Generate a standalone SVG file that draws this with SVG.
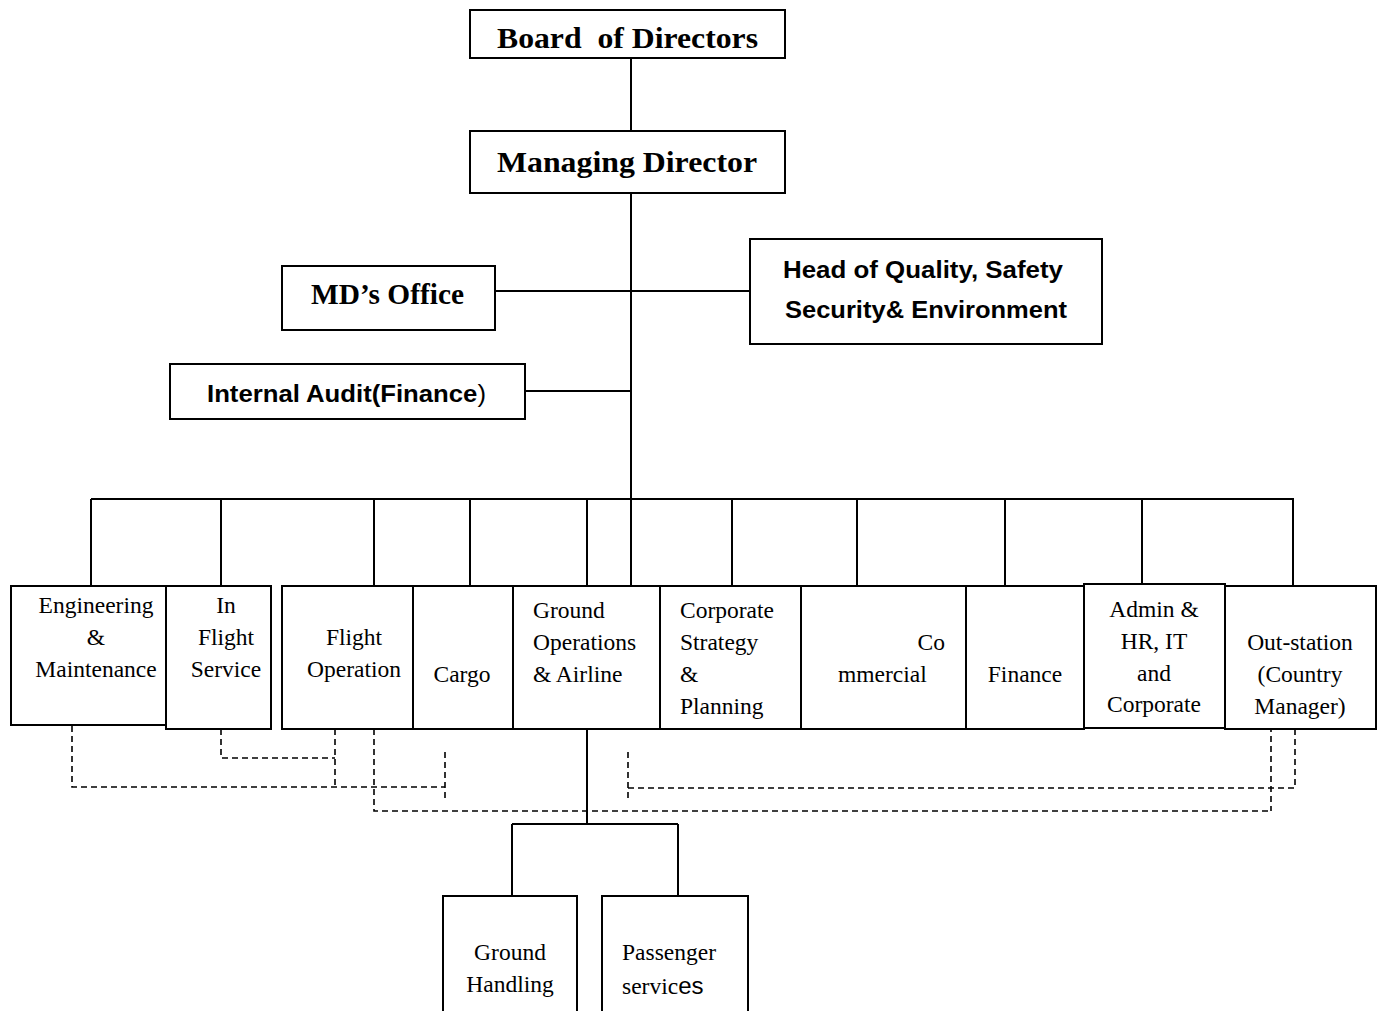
<svg xmlns="http://www.w3.org/2000/svg" width="1381" height="1011" viewBox="0 0 1381 1011">
<style>
.box{fill:#fff;stroke:#000;stroke-width:2}
.ln{stroke:#000;stroke-width:2;fill:none}
.ds{stroke:#000;stroke-width:1.6;fill:none;stroke-dasharray:6 4}
.tb{font-family:"Liberation Serif",serif;font-weight:bold;font-size:30px;fill:#000}
.ts{font-family:"Liberation Sans",Arial,sans-serif;font-weight:bold;font-size:23px;fill:#000}
.t{font-family:"Liberation Serif",serif;font-size:23.5px;fill:#000}
.c{text-anchor:middle}
</style>
<rect width="1381" height="1011" fill="#fff"/>
<g id="connectors">
<path class="ln" d="M631 58V131M631 193V586M495 291H751M525 391H631"/>
<path class="ln" d="M91 499H1294M91 499V586M221 499V586M374 499V586M470 499V586M587 499V586M732 499V586M857 499V586M1005 499V586M1142 499V584M1293 499V586"/>
<path class="ln" d="M587 729V824M512 824H678M512 824V896M678 824V896"/>
<path class="ds" d="M72 726V787H445M221 729V758H335M335 729V787M445 752V798M374 729V811H1271M1271 716V811M628 752V798M628 788H1295M1295 729V788"/>
</g>
<g id="board"><rect class="box" x="470" y="10" width="315" height="48"/><text class="tb" x="497" y="48" textLength="261" lengthAdjust="spacingAndGlyphs" xml:space="preserve">Board  of Directors</text></g>
<g id="md"><rect class="box" x="470" y="131" width="315" height="62"/><text class="tb" x="497" y="172" textLength="260" lengthAdjust="spacingAndGlyphs">Managing Director</text></g>
<g id="mdoffice"><rect class="box" x="282" y="266" width="213" height="64"/><text class="tb" x="311" y="304" textLength="153" lengthAdjust="spacingAndGlyphs">MD’s Office</text></g>
<g id="quality"><rect class="box" x="750" y="239" width="352" height="105"/><text class="ts" x="783" y="278" textLength="280" lengthAdjust="spacingAndGlyphs">Head of Quality, Safety</text><text class="ts" x="785" y="318" textLength="282" lengthAdjust="spacingAndGlyphs">Security&amp; Environment</text></g>
<g id="audit"><rect class="box" x="170" y="364" width="355" height="55"/><text class="ts" x="207" y="402" textLength="279" lengthAdjust="spacingAndGlyphs">Internal Audit(Finance<tspan font-weight="normal">)</tspan></text></g>
<g id="eng"><rect class="box" x="11" y="586" width="155" height="139"/><text class="t c" x="96" y="613">Engineering</text><text class="t c" x="96" y="645">&amp;</text><text class="t c" x="96" y="677">Maintenance</text></g>
<g id="inflight"><rect class="box" x="166" y="586" width="105" height="143"/><text class="t c" x="226" y="613">In</text><text class="t c" x="226" y="645">Flight</text><text class="t c" x="226" y="677">Service</text></g>
<g id="flightop"><rect class="box" x="282" y="586" width="131" height="143"/><text class="t c" x="354" y="645">Flight</text><text class="t c" x="354" y="677">Operation</text></g>
<g id="cargo"><rect class="box" x="413" y="586" width="100" height="143"/><text class="t c" x="462" y="682">Cargo</text></g>
<g id="groundops"><rect class="box" x="513" y="586" width="147" height="143"/><text class="t" x="533" y="618">Ground</text><text class="t" x="533" y="650">Operations</text><text class="t" x="533" y="682">&amp; Airline</text></g>
<g id="corpstrat"><rect class="box" x="660" y="586" width="141" height="143"/><text class="t" x="680" y="618">Corporate</text><text class="t" x="680" y="650">Strategy</text><text class="t" x="680" y="682">&amp;</text><text class="t" x="680" y="714">Planning</text></g>
<g id="commercial"><rect class="box" x="801" y="586" width="165" height="143"/><text class="t" x="945" y="650" text-anchor="end">Co</text><text class="t" x="838" y="682">mmercial</text></g>
<g id="finance"><rect class="box" x="966" y="586" width="118" height="143"/><text class="t c" x="1025" y="682">Finance</text></g>
<g id="admin"><rect class="box" x="1084" y="584" width="141" height="144"/><text class="t c" x="1154" y="617">Admin &amp;</text><text class="t c" x="1154" y="649">HR, IT</text><text class="t c" x="1154" y="681">and</text><text class="t c" x="1154" y="712">Corporate</text></g>
<g id="outstation"><rect class="box" x="1225" y="586" width="151" height="143"/><text class="t c" x="1300" y="650">Out-station</text><text class="t c" x="1300" y="682">(Country</text><text class="t c" x="1300" y="714">Manager)</text></g>
<g id="groundhandling"><rect class="box" x="443" y="896" width="134" height="120"/><text class="t c" x="510" y="960">Ground</text><text class="t c" x="510" y="992">Handling</text></g>
<g id="passenger"><rect class="box" x="602" y="896" width="146" height="120"/><text class="t" x="622" y="960">Passenger</text><text class="t" x="622" y="994">servic<tspan font-family="Liberation Sans, Arial, sans-serif" font-size="24">es</tspan></text></g>
</svg>
